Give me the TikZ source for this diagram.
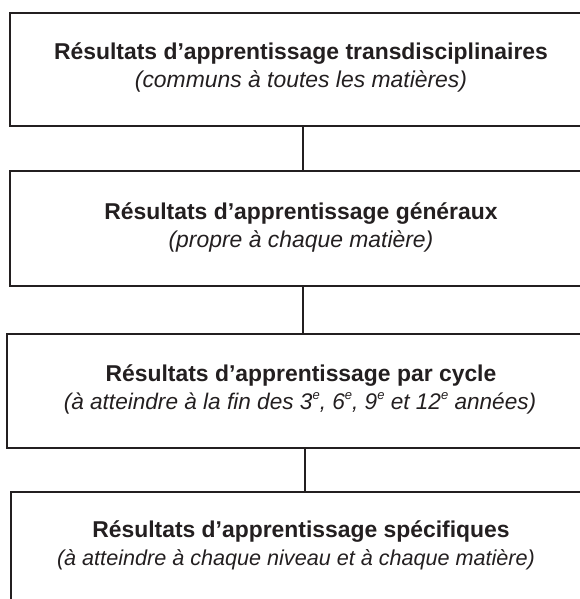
\documentclass[tikz,border=0pt]{standalone}
\usepackage{fontspec}
\setmainfont{Liberation Sans}
\definecolor{ink}{HTML}{231F20}
\newcommand{\supe}{\raisebox{0.42em}{\fontsize{13}{13}\selectfont e}}
\begin{document}
\begin{tikzpicture}[x=1pt,y=-1pt,
  box/.style={draw=ink, line width=2.5pt, rectangle, anchor=north west, inner sep=0pt, outer sep=0pt, minimum width=640pt},
  ttl/.style={font=\fontsize{22.9}{27}\selectfont\bfseries, text=ink, anchor=base, inner sep=0pt},
  sub/.style={font=\fontsize{22.9}{27}\selectfont\itshape, text=ink, anchor=base, inner sep=0pt},
  link/.style={draw=ink, line width=2.5pt}]
\useasboundingbox (0,0) rectangle (580,599);
\clip (0,0) rectangle (580,599);
\node[box, minimum height=113pt] (b1) at (10,13) {};
\node[box, minimum height=115pt] (b2) at (10,171) {};
\node[box, minimum height=114pt] (b3) at (7,334) {};
\node[box, minimum height=150pt] (b4) at (11,492) {};
\coordinate (c1) at (303,0);
\coordinate (c2) at (303,0);
\coordinate (c3) at (305,0);
\draw[link] (b1.south -| c1) -- (b2.north -| c1);
\draw[link] (b2.south -| c2) -- (b3.north -| c2);
\draw[link] (b3.south -| c3) -- (b4.north -| c3);
\node[ttl] (t1) at (301,60) {Résultats d’apprentissage transdisciplinaires};
\node[sub] (s1) at (301,88) {(communs à toutes les matières)};
\node[ttl] (t2) at (301,219) {Résultats d’apprentissage généraux};
\node[sub] (s2) at (301,247) {(propre à chaque matière)};
\node[ttl] (t3) at (301,381) {Résultats d’apprentissage par cycle};
\node[sub, font=\fontsize{22.6}{27}\selectfont\itshape] (s3) at (300,409) {(à atteindre à la fin des 3\supe, 6\supe, 9\supe{} et 12\supe{} années)};
\node[ttl] (t4) at (301,537) {Résultats d’apprentissage spécifiques};
\node[sub, font=\fontsize{21.6}{26}\selectfont\itshape] (s4) at (296,565) {(à atteindre à chaque niveau et à chaque matière)};
\end{tikzpicture}
\end{document}
